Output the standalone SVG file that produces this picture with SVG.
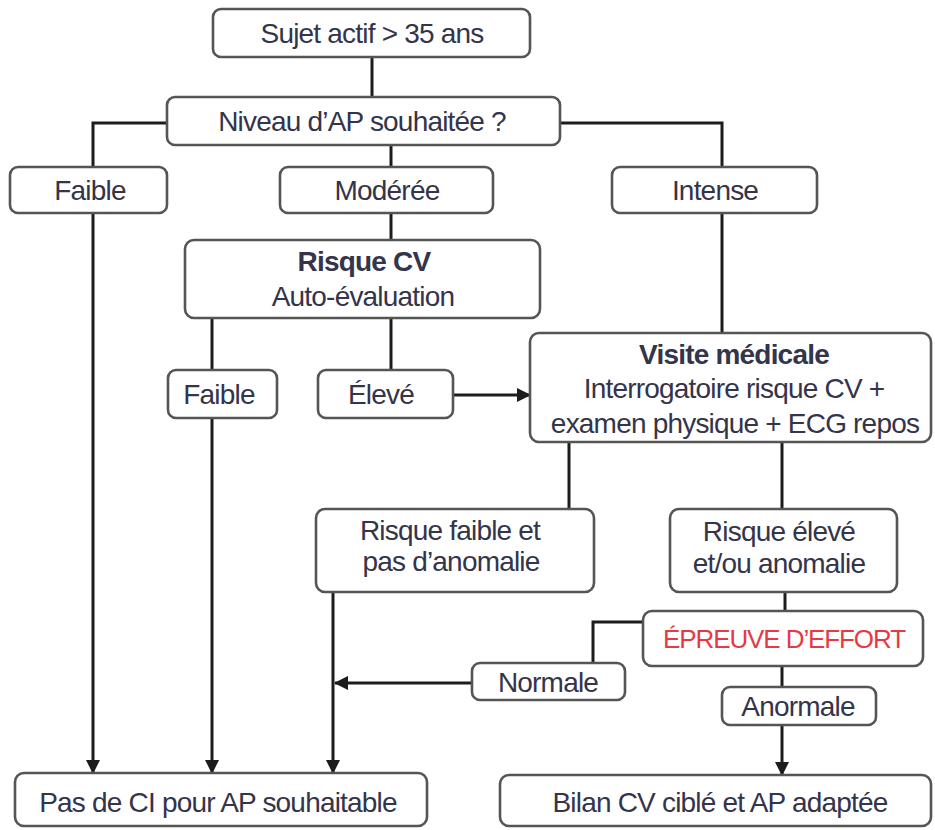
<svg xmlns="http://www.w3.org/2000/svg" width="935" height="830" viewBox="0 0 935 830">
<style>
.box{fill:#fff;stroke:#555;stroke-width:2.6}
.t{font-family:"Liberation Sans",Arial,sans-serif;font-size:28px;letter-spacing:-0.8px;fill:#34344a;text-anchor:middle}
.b{font-weight:bold}
.red{fill:#e53a44}
.c{fill:none;stroke:#1c1c1c;stroke-width:3}
</style>
<defs>
<marker id="ah" markerUnits="userSpaceOnUse" markerWidth="16" markerHeight="16" refX="13" refY="8" orient="auto">
<path d="M0,1 L14,8 L0,15 z" fill="#1c1c1c"/>
</marker>
</defs>
<rect width="935" height="830" fill="#fff"/>
<g id="connectors">
<path class="c" d="M372,57 V97"/>
<path class="c" d="M167,123 H93 V167"/>
<path class="c" d="M391,145 V167"/>
<path class="c" d="M560,123 H722 V167"/>
<path class="c" d="M93,213 V773" marker-end="url(#ah)"/>
<path class="c" d="M391,213 V240"/>
<path class="c" d="M722,213 V333"/>
<path class="c" d="M212,318 V370"/>
<path class="c" d="M391,318 V370"/>
<path class="c" d="M212,418 V773" marker-end="url(#ah)"/>
<path class="c" d="M453,395 H530" marker-end="url(#ah)"/>
<path class="c" d="M569,442 V510"/>
<path class="c" d="M782,442 V510"/>
<path class="c" d="M333,592 V773" marker-end="url(#ah)"/>
<path class="c" d="M785,592 V611"/>
<path class="c" d="M643,622 H593 V663"/>
<path class="c" d="M472,683 H335" marker-end="url(#ah)"/>
<path class="c" d="M782,666 V687"/>
<path class="c" d="M782,725 V775" marker-end="url(#ah)"/>
</g>
<g id="n-sujet"><rect class="box" x="213" y="9" width="317" height="48" rx="8"/><text class="t" x="372" y="43">Sujet actif &gt; 35 ans</text></g>
<g id="n-niveau"><rect class="box" x="167" y="97" width="393" height="48" rx="8"/><text class="t" x="362" y="131">Niveau d’AP souhaitée ?</text></g>
<g id="n-faible1"><rect class="box" x="10" y="167" width="157" height="46" rx="8"/><text class="t" x="90" y="200">Faible</text></g>
<g id="n-moderee"><rect class="box" x="280" y="167" width="213" height="46" rx="8"/><text class="t" x="387" y="200">Modérée</text></g>
<g id="n-intense"><rect class="box" x="612" y="167" width="205" height="46" rx="8"/><text class="t" x="715" y="200">Intense</text></g>
<g id="n-risquecv"><rect class="box" x="185" y="240" width="355" height="78" rx="9"/><text class="t b" x="364" y="271">Risque CV</text><text class="t" x="363" y="306">Auto-évaluation</text></g>
<g id="n-faible2"><rect class="box" x="168" y="370" width="109" height="48" rx="8"/><text class="t" x="219" y="404">Faible</text></g>
<g id="n-eleve"><rect class="box" x="318" y="370" width="135" height="48" rx="8"/><text class="t" x="381" y="404">Élevé</text></g>
<g id="n-visite"><rect class="box" x="530" y="333" width="401" height="109" rx="9"/><text class="t b" x="734" y="364">Visite médicale</text><text class="t" x="734" y="398">Interrogatoire risque CV +</text><text class="t" x="735" y="433">examen physique + ECG repos</text></g>
<g id="n-rfaible"><rect class="box" x="316" y="509" width="278" height="83" rx="9"/><text class="t" x="450" y="540">Risque faible et</text><text class="t" x="451" y="571">pas d’anomalie</text></g>
<g id="n-releve"><rect class="box" x="670" y="509" width="227" height="83" rx="9"/><text class="t" x="779" y="541">Risque élevé</text><text class="t" x="779" y="573">et/ou anomalie</text></g>
<g id="n-epreuve"><rect class="box" x="643" y="611" width="280" height="55" rx="9"/><text class="t red" x="784" y="648" style="font-size:26px;letter-spacing:-1.1px">ÉPREUVE D’EFFORT</text></g>
<g id="n-normale"><rect class="box" x="472" y="663" width="153" height="37" rx="8"/><text class="t" x="548" y="692">Normale</text></g>
<g id="n-anormale"><rect class="box" x="722" y="687" width="154" height="38" rx="8"/><text class="t" x="798" y="716">Anormale</text></g>
<g id="n-pasdeci"><rect class="box" x="15" y="773" width="412" height="53" rx="9"/><text class="t" x="218" y="812">Pas de CI pour AP souhaitable</text></g>
<g id="n-bilan"><rect class="box" x="500" y="775" width="431" height="51" rx="9"/><text class="t" x="720" y="812">Bilan CV ciblé et AP adaptée</text></g>
</svg>
